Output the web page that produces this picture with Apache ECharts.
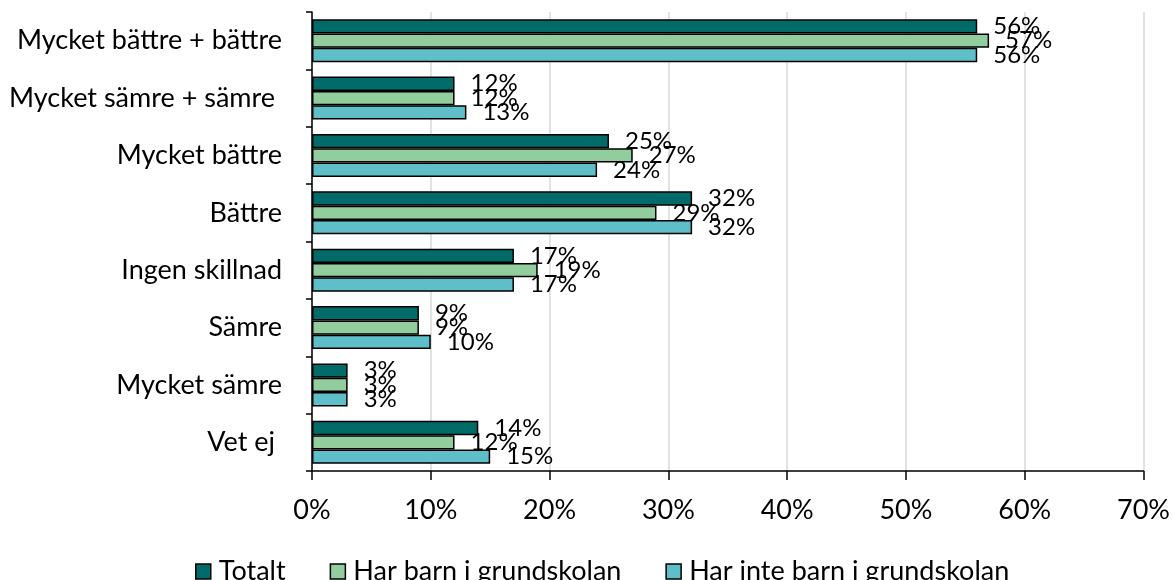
<!DOCTYPE html>
<html><head><meta charset="utf-8">
<script src="https://cdn.jsdelivr.net/npm/echarts@6/dist/echarts.min.js"></script>
<style>html,body{margin:0;padding:0;background:#fff}#c{width:1173px;height:580px}</style>
</head><body><div id="c"></div>
<script>
const categories = ["Mycket bättre + bättre","Mycket sämre + sämre ","Mycket bättre","Bättre","Ingen skillnad","Sämre","Mycket sämre","Vet ej "];
const seriesNames = ["Totalt","Har barn i grundskolan","Har inte barn i grundskolan"];
const totalt = [56,12,25,32,17,9,3,14];
const harBarn = [57,12,27,29,19,9,3,12];
const harInteBarn = [56,13,24,32,17,10,3,15];
const colors = ["#006B68","#92CD9E","#5FBFC8"];
const xTicks = [0,10,20,30,40,50,60,70];

const font = "Lato, sans-serif";
const chart = echarts.init(document.getElementById('c'));
const mk = (name, data, color) => ({
  name, type:'bar', data, barGap:'0%', barCategoryGap:'25%',
  itemStyle:{color, borderColor:'#000', borderWidth:1.5},
  label:{show:true, position:'right', distance:16, formatter:'{c}%', color:'#000', fontSize:24, fontFamily:font},
  labelLayout:{hideOverlap:false}
});
chart.setOption({
  animation:false,
  textStyle:{fontFamily:font},
  grid:{left:312, right:27, top:12, bottom:109, containLabel:false},
  legend:{top:553, left:190, itemGap:44, itemWidth:15, itemHeight:15, icon:'rect',
    textStyle:{fontSize:27, color:'#000', fontFamily:font, padding:[0,0,0,3]},
    itemStyle:{borderColor:'#000', borderWidth:1.5}},
  xAxis:{type:'value', min:0, max:70, interval:10,
    axisLine:{show:true, lineStyle:{color:'#000', width:1.5}},
    axisTick:{show:true, length:9, lineStyle:{color:'#000', width:1.5}},
    axisLabel:{formatter:v=>xTicks.includes(v)?v+'%':'', fontSize:27, color:'#000', margin:26, fontFamily:font},
    splitLine:{show:true, lineStyle:{color:'#d9d9d9', width:1.5}}},
  yAxis:{type:'category', data:categories, inverse:true,
    axisLine:{show:true, lineStyle:{color:'#000', width:1.5}},
    axisTick:{show:true, length:6, lineStyle:{color:'#000', width:1.5}},
    axisLabel:{fontSize:27, color:'#000', margin:30, fontFamily:font}},
  series:[mk(seriesNames[0], totalt, colors[0]), mk(seriesNames[1], harBarn, colors[1]), mk(seriesNames[2], harInteBarn, colors[2])]
});
</script></body></html>
